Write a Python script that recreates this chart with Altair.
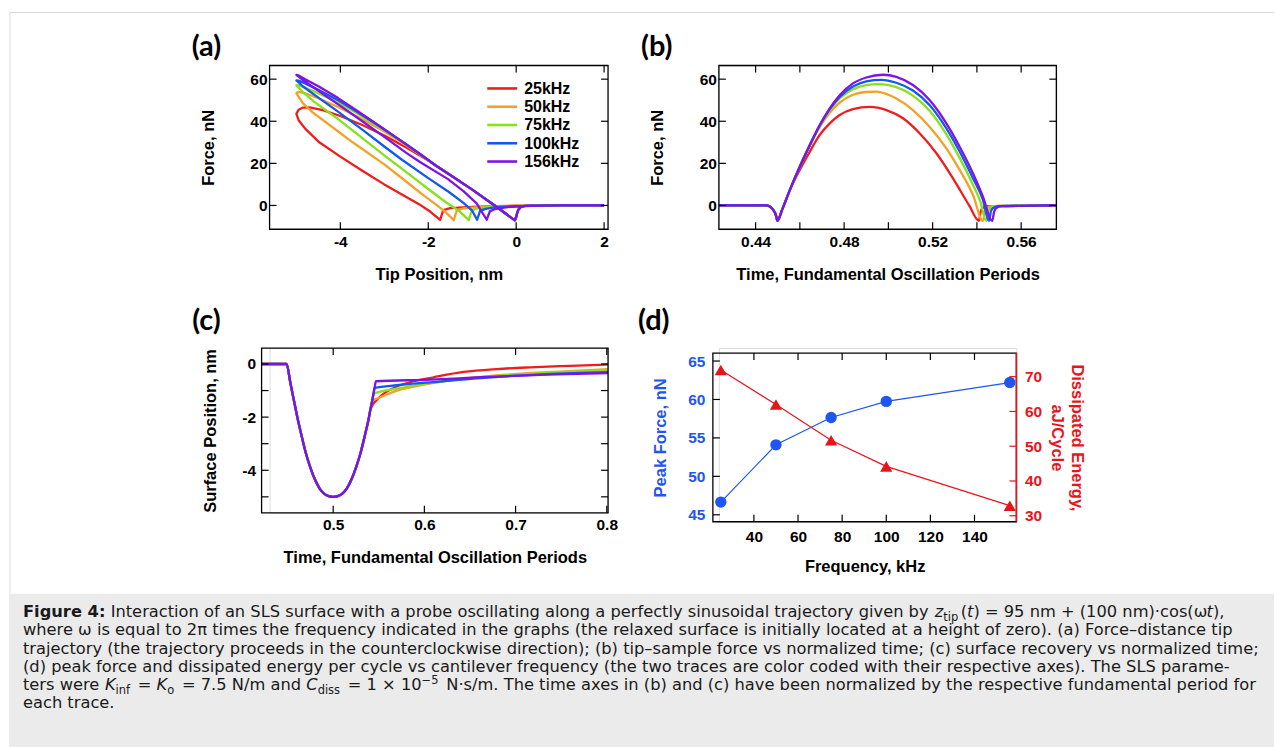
import altair as alt
import pandas as pd

# ---------------------------------------------------------------- data
SERIES = ["25kHz", "50kHz", "75kHz", "100kHz", "156kHz"]
COLORS = ["#f01d1d", "#f3a12a", "#87e11d", "#1557f2", "#7e13e6"]

# (a) force vs tip position (path: approach -> loading -> unloading -> retract)
A_APPROACH_X = [2.0, 1.0, 0.5, 0.3, 0.2, 0.1, 0.05, 0.02, 0.0, -0.03]
A_APPROACH_F = [0.0, 0.0, -0.05, -0.12, -0.25, -0.8, -2.0, -3.8, -5.5, -7.1]
A_LOAD_X = [-0.45, -1.0, -1.5, -1.83]
A_LOAD_F = [-0.6, 7.5, 14.5, 19.0]
A_UPPER_X = {
    "25kHz": [-2.0, -2.5, -3.0, -3.5, -4.0, -4.4, -4.7, -4.85, -4.95, -5.0],
    "50kHz": [-2.18, -2.5, -3.11, -3.62, -4.05, -4.49, -4.8, -4.95, -5.0],
    "75kHz": [-2.18, -2.5, -3.11, -3.62, -4.05, -4.49, -4.8, -4.95, -5.0],
    "100kHz": [-2.18, -2.5, -3.11, -3.62, -4.05, -4.49, -4.8, -4.95, -5.0],
    "156kHz": [-2.18, -2.5, -3.11, -3.62, -4.05, -4.49, -4.8, -4.95, -5.0],
}
A_UPPER_F = {
    "25kHz": [21.3, 27.5, 33.2, 38.2, 42.5, 45.3, 46.6, 46.5, 45.5, 43.5],
    "50kHz": [24.0, 28.6, 36.5, 42.3, 46.8, 50.8, 53.3, 54.0, 53.3],
    "75kHz": [24.2, 28.9, 37.2, 43.8, 48.8, 53.2, 56.0, 57.2, 57.0],
    "100kHz": [24.3, 29.0, 37.6, 44.5, 50.0, 54.8, 58.0, 59.3, 59.4],
    "156kHz": [24.3, 29.0, 37.8, 45.0, 51.0, 56.5, 60.0, 61.8, 62.0],
}
A_LOWER_X = {
    "25kHz": [-4.95, -4.8, -4.48, -4.0, -3.5, -3.0, -2.5, -2.2, -1.95, -1.73],
    "50kHz": [-4.85, -4.63, -4.2, -3.72, -3.0, -2.59, -2.18, -1.8, -1.6, -1.42],
    "75kHz": [-4.85, -4.6, -4.1, -3.5, -3.0, -2.5, -2.0, -1.6, -1.3, -1.08],
    "100kHz": [-4.85, -4.5, -4.1, -3.5, -3.0, -2.59, -2.0, -1.53, -1.2, -1.0, -0.89],
    "156kHz": [-4.85, -4.5, -4.0, -3.5, -3.0, -2.5, -2.18, -1.55, -1.2, -0.9, -0.67],
}
A_LOWER_F = {
    "25kHz": [40.5, 36.5, 30.0, 23.2, 16.5, 10.0, 4.0, 0.5, -3.0, -6.9],
    "50kHz": [48.5, 44.2, 37.5, 30.0, 19.5, 12.8, 6.0, 0.0, -3.3, -7.0],
    "75kHz": [53.8, 49.3, 41.8, 32.0, 23.8, 15.8, 7.8, 1.5, -2.6, -7.0],
    "100kHz": [56.5, 51.2, 45.3, 36.0, 28.0, 21.6, 13.0, 6.4, 1.2, -2.5, -6.8],
    "156kHz": [59.5, 54.5, 47.3, 40.0, 32.6, 25.0, 20.5, 12.5, 6.8, 1.0, -6.8],
}
A_RETRACT_X = {
    "25kHz": [-1.66, -1.5, -1.0, -0.5, 0.0, 0.5, 1.0, 2.0],
    "50kHz": [-1.35, -1.2, -0.8, -0.3, 0.2, 1.0, 2.0],
    "75kHz": [-1.01, -0.9, -0.6, -0.2, 0.3, 1.0, 2.0],
    "100kHz": [-0.82, -0.7, -0.4, 0.0, 0.4, 1.0, 2.0],
    "156kHz": [-0.6, -0.48, -0.2, 0.1, 0.5, 1.0, 2.0],
}
A_RETRACT_F = {
    "25kHz": [-2.2, -1.3, -0.7, -0.35, -0.15, -0.05, 0.0, 0.0],
    "50kHz": [-2.3, -1.4, -0.7, -0.3, -0.1, 0.0, 0.0],
    "75kHz": [-2.4, -1.5, -0.7, -0.3, -0.1, 0.0, 0.0],
    "100kHz": [-2.6, -1.6, -0.7, -0.3, -0.1, 0.0, 0.0],
    "156kHz": [-2.8, -1.7, -0.8, -0.4, -0.1, 0.0, 0.0],
}

# (b) force vs normalized time
B_PRE_T = [0.4234, 0.440, 0.445, 0.4462, 0.4472, 0.4481, 0.4488, 0.4494, 0.4498, 0.452, 0.4555]
B_PRE_F = [0.0, 0.0, 0.0, -0.4, -1.2, -2.3, -3.6, -5.5, -7.3, -2.0, 7.4]
B_T = {
    "25kHz": [0.46, 0.4645, 0.469, 0.4735, 0.478, 0.484, 0.4916, 0.4991, 0.5066, 0.5141, 0.5217, 0.5292, 0.5365, 0.5409, 0.5417, 0.5425, 0.545, 0.5759],
    "50kHz": [0.46, 0.4645, 0.469, 0.4735, 0.478, 0.484, 0.4895, 0.4946, 0.5036, 0.5111, 0.5186, 0.5262, 0.5322, 0.5382, 0.5427, 0.5436, 0.5445, 0.547, 0.5759],
    "75kHz": [0.46, 0.4645, 0.469, 0.4735, 0.478, 0.484, 0.490, 0.4961, 0.5036, 0.5111, 0.5186, 0.5262, 0.5322, 0.5382, 0.5415, 0.5442, 0.5451, 0.546, 0.548, 0.5759],
    "100kHz": [0.46, 0.4645, 0.469, 0.4735, 0.478, 0.484, 0.490, 0.4968, 0.5036, 0.5111, 0.5186, 0.5262, 0.5322, 0.5382, 0.5427, 0.5454, 0.5463, 0.5472, 0.5495, 0.5759],
    "156kHz": [0.46, 0.4645, 0.469, 0.4735, 0.478, 0.484, 0.490, 0.4976, 0.5036, 0.5111, 0.5186, 0.5262, 0.5322, 0.5382, 0.5427, 0.5469, 0.5478, 0.5487, 0.551, 0.5759],
}
B_F = {
    "25kHz": [17.0, 25.6, 33.5, 39.0, 43.0, 45.8, 46.8, 45.3, 41.4, 34.3, 24.8, 12.9, 0.0, -7.3, -3.0, -1.3, -0.3, 0.0],
    "50kHz": [18.4, 28.4, 37.3, 44.0, 48.9, 52.6, 53.9, 54.1, 50.8, 45.3, 37.4, 27.1, 16.9, 5.1, -7.3, -3.0, -1.3, -0.3, 0.0],
    "75kHz": [18.5, 28.7, 38.0, 45.3, 50.8, 55.2, 57.2, 57.6, 56.2, 52.2, 45.0, 33.8, 22.6, 9.8, 2.0, -7.3, -3.0, -1.3, -0.3, 0.0],
    "100kHz": [18.5, 28.7, 38.1, 45.8, 51.6, 56.5, 59.0, 59.7, 58.3, 54.6, 47.7, 36.6, 25.6, 12.9, 2.7, -7.3, -3.0, -1.3, -0.3, 0.0],
    "156kHz": [18.5, 28.7, 38.2, 46.1, 52.4, 58.0, 60.8, 62.1, 61.1, 57.2, 50.1, 39.0, 27.9, 15.3, 4.3, -7.3, -3.0, -1.3, -0.3, 0.0],
}

# (c) surface position vs normalized time
C_V_T = [0.4215, 0.4489, 0.453, 0.457, 0.461, 0.465, 0.470, 0.475, 0.480, 0.485, 0.490, 0.495, 0.500,
         0.505, 0.510, 0.515, 0.520, 0.525, 0.530, 0.535, 0.539, 0.5409, 0.5427, 0.5442, 0.5454, 0.5469]
C_V_Y = [0.0, 0.0, -0.7, -1.38, -2.05, -2.65, -3.35, -3.9, -4.35, -4.68, -4.88, -4.97, -5.0,
         -4.97, -4.88, -4.68, -4.35, -3.9, -3.35, -2.65, -2.05, -1.70, -1.40, -1.12, -0.90, -0.65]
C_DETACH_T = {"25kHz": 0.5409, "50kHz": 0.5427, "75kHz": 0.5442, "100kHz": 0.5454, "156kHz": 0.5469}
C_REC_T = {
    "25kHz": [0.5518, 0.5664, 0.5883, 0.6102, 0.6431, 0.6796, 0.716, 0.760, 0.8014],
    "50kHz": [0.5518, 0.570, 0.5993, 0.6431, 0.6978, 0.7526, 0.8014],
    "75kHz": [0.570, 0.6066, 0.6613, 0.7343, 0.8014],
    "100kHz": [0.570, 0.6066, 0.6613, 0.7343, 0.8014],
    "156kHz": [0.6066, 0.6613, 0.7343, 0.8014],
}
C_REC_Y = {
    "25kHz": [-1.22, -0.90, -0.65, -0.50, -0.30, -0.19, -0.125, -0.07, -0.02],
    "50kHz": [-1.25, -1.0, -0.78, -0.55, -0.38, -0.28, -0.19],
    "75kHz": [-0.93, -0.71, -0.50, -0.34, -0.24],
    "100kHz": [-0.80, -0.69, -0.53, -0.38, -0.31],
    "156kHz": [-0.59, -0.50, -0.40, -0.34],
}

# (d) peak force and dissipated energy vs frequency
D_FREQ = [25, 50, 75, 100, 156]
D_PEAK = [46.65, 54.1, 57.65, 59.75, 62.2]
D_ENERGY = [71.9, 62.0, 51.7, 44.2, 32.9]

# tick values / labels
A_XTICKS = [-4, -2, 0, 2]
A_YTICKS = [0, 20, 40, 60]
B_XTICKS = [0.44, 0.46, 0.48, 0.50, 0.52, 0.54, 0.56]
B_XLABELS = [0.44, 0.48, 0.52, 0.56]
C_XTICKS = [0.5, 0.6, 0.7, 0.8]
C_YTICKS = [0, -1, -2, -3, -4, -5]
C_YLABELS = [0, -2, -4]
D_XTICKS = [40, 60, 80, 100, 120, 140]
D_YLTICKS = [45, 50, 55, 60, 65]
D_YRTICKS = [30, 40, 50, 60, 70]

CAPTION = [
    [("Figure 4:", "b"), (" Interaction of an SLS surface with a probe oscillating along a perfectly sinusoidal trajectory given by ", "r"),
     ("z", "i"), ("tip", "sub"), ("(", "r"), ("t", "i"), (") = 95 nm + (100 nm)·cos(ω", "r"), ("t", "i"), ("),", "r")],
    [("where ω is equal to 2π times the frequency indicated in the graphs (the relaxed surface is initially located at a height of zero). (a) Force–distance tip", "r")],
    [("trajectory (the trajectory proceeds in the counterclockwise direction); (b) tip–sample force vs normalized time; (c) surface recovery vs normalized time;", "r")],
    [("(d) peak force and dissipated energy per cycle vs cantilever frequency (the two traces are color coded with their respective axes). The SLS parame-", "r")],
    [("ters were ", "r"), ("K", "i"), ("inf", "sub"), (" = ", "r"), ("K", "i"), ("o", "sub"), (" = 7.5 N/m and ", "r"), ("C", "i"), ("diss", "sub"),
     (" = 1 × 10", "r"), ("−5", "sup"), (" N·s/m. The time axes in (b) and (c) have been normalized by the respective fundamental period for", "r")],
    [("each trace.", "r")],
]

# ---------------------------------------------------------------- styles
AF = "Liberation Sans, Arial, Helvetica, sans-serif"
CF = "DejaVu Sans, Verdana, sans-serif"
LF = "Lato, Open Sans, sans-serif"
LABEL_SIZE = 15.5
TITLE_SIZE = 16.5
TICK = 7
MINUS = "replace(datum.label, '\u2212', '-')"
BLUE = "#1f55f0"
RED = "#e8141c"
DF0 = pd.DataFrame({"v": [0]})


def x_axis(values, fmt, title, title_x, pad=5, color="black", title_y=50):
    return alt.Axis(values=values, format=fmt, title=title, orient="bottom", ticks=False, tickSize=0,
                    domain=False, grid=False, labelPadding=pad, labelFlush=False, labelOverlap=False,
                    labelFont=AF, labelFontSize=LABEL_SIZE, labelFontWeight="bold", labelColor=color,
                    labelExpr=MINUS, titleFont=AF, titleFontSize=TITLE_SIZE, titleFontWeight="bold",
                    titleColor=color, titleX=title_x, titleY=title_y, titleAlign="center",
                    titleBaseline="alphabetic", zindex=2)


def y_axis(values, fmt, title, title_y, title_x, pad=3, color="black", orient="left", angle=270,
           offset=0):
    return alt.Axis(values=values, format=fmt, title=title, orient=orient, ticks=False, tickSize=0,
                    domain=False, grid=False, labelPadding=pad, labelFlush=False, labelOverlap=False,
                    labelFont=AF, labelFontSize=LABEL_SIZE, labelFontWeight="bold", labelColor=color,
                    labelExpr=MINUS, titleFont=AF, titleFontSize=TITLE_SIZE, titleFontWeight="bold",
                    titleColor=color, titleX=title_x, titleY=title_y, titleAlign="center",
                    titleBaseline="middle", titleAngle=angle, titleLineHeight=20, offset=offset,
                    zindex=2)


def xtick_layers(vals, xsc, xax, y0, y1, color="black"):
    base = alt.Chart(pd.DataFrame({"x": vals}))
    top = base.mark_rule(color=color, strokeWidth=1.2).encode(
        x=alt.X("x:Q", scale=xsc, axis=xax), y=alt.value(y0), y2=alt.value(y0 + TICK))
    bot = base.mark_rule(color=color, strokeWidth=1.2).encode(
        x=alt.X("x:Q", scale=xsc, axis=xax), y=alt.value(y1 - TICK), y2=alt.value(y1))
    return [top, bot]


def ytick_layer(vals, field, ysc, yax, x0, x1, color="black"):
    return alt.Chart(pd.DataFrame({field: vals})).mark_rule(color=color, strokeWidth=1.2).encode(
        y=alt.Y(field + ":Q", scale=ysc, axis=yax), x=alt.value(x0), x2=alt.value(x1))


def frame(x0, x1, y0, y1):
    return alt.Chart(DF0).mark_rect(fillOpacity=0, stroke="black", strokeWidth=1.3).encode(
        x=alt.value(x0), x2=alt.value(x1), y=alt.value(y0), y2=alt.value(y1))


def letter(txt, dx, dy):
    return alt.Chart(pd.DataFrame({"t": [txt]})).mark_text(
        font=LF, fontSize=29, fontWeight="bold", align="left", baseline="alphabetic", color="black"
    ).encode(text="t:N", x=alt.value(dx), y=alt.value(dy))


COLOR_SCALE = alt.Scale(domain=SERIES, range=COLORS)

# ---------------------------------------------------------------- page background (drawn first)
bg = alt.Chart(DF0).mark_rect(color="white").encode(
    x=alt.value(-269), x2=alt.value(1006), y=alt.value(-64), y2=alt.value(683))
border_top = alt.Chart(DF0).mark_rule(color="#d9d9d9", strokeWidth=1).encode(
    x=alt.value(9 - 269), x2=alt.value(1006), y=alt.value(11 - 64))
border_left = alt.Chart(DF0).mark_rule(color="#d9d9d9", strokeWidth=1).encode(
    x=alt.value(9 - 269), y=alt.value(11 - 64), y2=alt.value(593 - 64))

# ---------------------------------------------------------------- panel (a)
rows = []
for s in SERIES:
    xs = A_APPROACH_X + A_LOAD_X + A_UPPER_X[s] + A_LOWER_X[s] + A_RETRACT_X[s]
    fs = A_APPROACH_F + A_LOAD_F + A_UPPER_F[s] + A_LOWER_F[s] + A_RETRACT_F[s]
    for i, (x, f) in enumerate(zip(xs, fs)):
        rows.append({"x": x, "y": f, "s": s, "o": i})
df_a = pd.DataFrame(rows)

WA, HA = 339, 164
xs_a = alt.Scale(domain=[-5.61, 2.09], nice=False, zero=False)
ys_a = alt.Scale(domain=[-11.3, 66.5], nice=False, zero=False)
ax_a_x = x_axis(A_XTICKS, "d", "Tip Position, nm", WA / 2)
ax_a_y = y_axis(A_YTICKS, "d", "Force, nN", HA / 2, -61, pad=2.5)
lines_a = alt.Chart(df_a).mark_line(strokeWidth=2.3, strokeJoin="round").encode(
    x=alt.X("x:Q", scale=xs_a, axis=ax_a_x), y=alt.Y("y:Q", scale=ys_a, axis=ax_a_y),
    color=alt.Color("s:N", scale=COLOR_SCALE, legend=None), order="o:Q")
legend_layers = []
for i, s in enumerate(SERIES):
    d1 = pd.DataFrame({"s": [s]})
    legend_layers.append(alt.Chart(d1).mark_rule(strokeWidth=2.6).encode(
        color=alt.Color("s:N", scale=COLOR_SCALE, legend=None),
        x=alt.value(218), x2=alt.value(248), y=alt.value(23 + 18.3 * i)))
    legend_layers.append(alt.Chart(d1).mark_text(
        font=AF, fontSize=16, fontWeight="bold", align="left", baseline="middle", color="black"
    ).encode(text="s:N", x=alt.value(255), y=alt.value(23.5 + 18.3 * i)))
panel_a = alt.layer(
    bg, border_top, border_left,
    lines_a, *xtick_layers(A_XTICKS, xs_a, ax_a_x, 0, HA),
    ytick_layer(A_YTICKS, "y", ys_a, ax_a_y, 0, TICK), ytick_layer(A_YTICKS, "y", ys_a, ax_a_y, WA - TICK, WA),
    *legend_layers, frame(0, WA, 0, HA),
    letter("(a)", -78, -10),
).properties(width=WA, height=HA)

# ---------------------------------------------------------------- panel (b)
rows = []
for s in SERIES:
    ts = B_PRE_T + B_T[s]
    fs = B_PRE_F + B_F[s]
    for i, (t, f) in enumerate(zip(ts, fs)):
        rows.append({"x": t, "y": f, "s": s, "o": i})
df_b = pd.DataFrame(rows)

WB, HB = 338, 164
xs_b = alt.Scale(domain=[0.4234, 0.5759], nice=False, zero=False)
ys_b = alt.Scale(domain=[-11.3, 66.5], nice=False, zero=False)
ax_b_x = x_axis(B_XLABELS, ".2f", "Time, Fundamental Oscillation Periods", WB / 2)
ax_b_y = y_axis(A_YTICKS, "d", "Force, nN", HB / 2, -61.3, pad=2.5)
lines_b = alt.Chart(df_b).mark_line(strokeWidth=2.3, interpolate="monotone").encode(
    x=alt.X("x:Q", scale=xs_b, axis=ax_b_x), y=alt.Y("y:Q", scale=ys_b, axis=ax_b_y),
    color=alt.Color("s:N", scale=COLOR_SCALE, legend=None), order="o:Q")
panel_b = alt.layer(
    lines_b, *xtick_layers(B_XTICKS, xs_b, ax_b_x, 0, HB),
    ytick_layer(A_YTICKS, "y", ys_b, ax_b_y, 0, TICK), ytick_layer(A_YTICKS, "y", ys_b, ax_b_y, WB - TICK, WB),
    frame(0, WB, 0, HB), letter("(b)", -78, -10),
).properties(width=WB, height=HB)

# ---------------------------------------------------------------- panel (c)
rows = []
for s in SERIES:
    ts = [t for t in C_V_T if t <= C_DETACH_T[s]] + C_REC_T[s]
    ys = [y for t, y in zip(C_V_T, C_V_Y) if t <= C_DETACH_T[s]] + C_REC_Y[s]
    for i, (t, y) in enumerate(zip(ts, ys)):
        rows.append({"x": t, "y": y, "s": s, "o": i})
df_c = pd.DataFrame(rows)

WC, HC, OC = 339, 165, -8   # frame runs from x = OC to WC
xs_c = alt.Scale(domain=[0.4215, 0.8014], range=[OC, WC], nice=False, zero=False)
ys_c = alt.Scale(domain=[-5.6, 0.6], nice=False, zero=False)
ax_c_x = x_axis(C_XTICKS, ".1f", "Time, Fundamental Oscillation Periods", (OC + WC) / 2)
ax_c_y = y_axis(C_YLABELS, "d", "Surface Position, nm", HC / 2, -51, pad=6, offset=-OC)
lines_c = alt.Chart(df_c).mark_line(strokeWidth=2.3, interpolate="monotone").encode(
    x=alt.X("x:Q", scale=xs_c, axis=ax_c_x), y=alt.Y("y:Q", scale=ys_c, axis=ax_c_y),
    color=alt.Color("s:N", scale=COLOR_SCALE, legend=None), order="o:Q")
panel_c = alt.layer(
    lines_c, *xtick_layers(C_XTICKS, xs_c, ax_c_x, 0, HC),
    ytick_layer(C_YTICKS, "y", ys_c, ax_c_y, OC, OC + TICK), ytick_layer(C_YTICKS, "y", ys_c, ax_c_y, WC - TICK, WC),
    frame(OC, WC, 0, HC), letter("(c)", -77.5, -18),
).properties(width=WC, height=HC)

# ---------------------------------------------------------------- panel (d)
df_d = pd.DataFrame({"x": D_FREQ, "peak": D_PEAK, "energy": D_ENERGY})
WD, HD, OXD, OYD = 298, 174, -6, 5   # frame x from OXD to WD, y from OYD to HD
xs_d = alt.Scale(domain=[21.4, 159.0], range=[OXD, WD], nice=False, zero=False)
ysl_d = alt.Scale(domain=[44.09, 66.04], range=[HD, OYD], nice=False, zero=False)
ysr_d = alt.Scale(domain=[28.27, 76.8], range=[HD, OYD], nice=False, zero=False)
ax_d_x = x_axis(D_XTICKS, "d", "Frequency, kHz", (OXD + WD) / 2, pad=8)
ax_d_yl = y_axis(D_YLTICKS, "d", "Peak Force, nN", (OYD + HD) / 2, -52, pad=8, color=BLUE, offset=-OXD)
ax_d_yr = y_axis(D_YRTICKS, "d", ["Dissipated Energy,", "aJ/Cycle"], (OYD + HD) / 2, 60, pad=8,
                 color=RED, orient="right", angle=90)

base_d = alt.Chart(df_d)
blue_line = base_d.mark_line(color=BLUE, strokeWidth=1.2).encode(
    x=alt.X("x:Q", scale=xs_d, axis=ax_d_x), y=alt.Y("peak:Q", scale=ysl_d, axis=ax_d_yl))
blue_pts = base_d.mark_point(color=BLUE, filled=True, shape="circle", size=130, opacity=1).encode(
    x=alt.X("x:Q", scale=xs_d, axis=ax_d_x), y=alt.Y("peak:Q", scale=ysl_d, axis=ax_d_yl))
left_ticks = ytick_layer(D_YLTICKS, "peak", ysl_d, ax_d_yl, OXD, OXD + TICK)
left_group = alt.layer(frame(OXD, WD, OYD, HD), blue_line, blue_pts, left_ticks,
                       *xtick_layers(D_XTICKS, xs_d, ax_d_x, OYD, HD), letter("(d)", -81, -18))

red_line = base_d.mark_line(color=RED, strokeWidth=1.2).encode(
    x=alt.X("x:Q", scale=xs_d, axis=ax_d_x), y=alt.Y("energy:Q", scale=ysr_d, axis=ax_d_yr))
red_pts = base_d.mark_point(color=RED, filled=True, shape="triangle-up", size=150, opacity=1).encode(
    x=alt.X("x:Q", scale=xs_d, axis=ax_d_x), y=alt.Y("energy:Q", scale=ysr_d, axis=ax_d_yr))
right_ticks = ytick_layer(D_YRTICKS, "energy", ysr_d, ax_d_yr, WD - TICK, WD, color=RED)
right_edge = alt.Chart(DF0).mark_rule(color=RED, strokeWidth=1.6).encode(
    x=alt.value(WD), y=alt.value(OYD), y2=alt.value(HD))
right_group = alt.layer(red_line, red_pts, right_ticks, right_edge)

panel_d = alt.layer(left_group, right_group).resolve_scale(y="independent").properties(width=WD, height=HD)

# ---------------------------------------------------------------- caption
DV = {' ': 318, '!': 401, '(': 390, ')': 390, ',': 318, '-': 361, '.': 318, '/': 337, ':': 337, ';': 337,
      '=': 838, '+': 838, '–': 500, '×': 838, '·': 318, 'ω': 782, 'π': 602, '−': 838,
      'A': 684, 'B': 686, 'C': 698, 'D': 770, 'E': 632, 'F': 575, 'G': 775, 'H': 752, 'I': 295, 'J': 295,
      'K': 656, 'L': 557, 'M': 863, 'N': 748, 'O': 787, 'P': 603, 'Q': 787, 'R': 695, 'S': 635, 'T': 611,
      'U': 732, 'V': 684, 'W': 989, 'X': 685, 'Y': 611, 'Z': 685,
      'a': 613, 'b': 635, 'c': 550, 'd': 635, 'e': 615, 'f': 352, 'g': 635, 'h': 634, 'i': 278, 'j': 278,
      'k': 579, 'l': 278, 'm': 974, 'n': 634, 'o': 612, 'p': 635, 'q': 635, 'r': 411, 's': 521, 't': 392,
      'u': 634, 'v': 592, 'w': 818, 'x': 592, 'y': 592, 'z': 525}
for dch in "0123456789":
    DV[dch] = 636
DVB = dict(DV)
DVB.update({' ': 348, 'F': 683, 'i': 343, 'g': 716, 'u': 712, 'r': 493, 'e': 678, '4': 696, ':': 400})

CAP_SIZE = 16.3
STYLE = {  # size, dy, weight, style
    "r": (CAP_SIZE, 0, "normal", "normal"),
    "b": (CAP_SIZE, 0, "bold", "normal"),
    "i": (CAP_SIZE, 0, "normal", "italic"),
    "sub": (11.5, 4, "normal", "normal"),
    "sup": (11.5, -6.5, "normal", "normal"),
}


def width(txt, size, table):
    return sum(table.get(ch, 600) for ch in txt) / 1000.0 * size


CAP_ORIGIN_X, CAP_ORIGIN_Y = 269, 640
CAP_X0 = 22 - CAP_ORIGIN_X
CAP_BASE0 = 616.5 - CAP_ORIGIN_Y
CAP_STEP = 18.3
seg_rows = []
for li, line in enumerate(CAPTION):
    xcur = CAP_X0
    base = CAP_BASE0 + li * CAP_STEP
    for text, st in line:
        size, dy, wt, fs = STYLE[st]
        table = DVB if st == "b" else DV
        lead = len(text) - len(text.lstrip(" "))
        trail = len(text) - len(text.rstrip(" "))
        xcur += width(" " * lead, size, table)
        core = text.strip(" ")
        seg_rows.append({"text": core, "px": xcur, "py": base + dy, "st": st})
        xcur += width(core, size, table) + width(" " * trail, size, table)
        if st in ("sub", "sup"):
            xcur += 2.5
df_cap = pd.DataFrame(seg_rows)

WCAP, HCAP = 300, 747 - CAP_ORIGIN_Y
cap_bg = alt.Chart(DF0).mark_rect(color="#ebebeb").encode(
    x=alt.value(8 - CAP_ORIGIN_X), x2=alt.value(1275 - CAP_ORIGIN_X),
    y=alt.value(593 - CAP_ORIGIN_Y), y2=alt.value(HCAP))
cap_layers = [cap_bg]
for st, (size, dy, wt, fs) in STYLE.items():
    sub = df_cap[df_cap["st"] == st]
    if len(sub) == 0:
        continue
    cap_layers.append(alt.Chart(sub).mark_text(
        font=CF, fontSize=size, fontWeight=wt, fontStyle=fs, align="left", baseline="alphabetic",
        color="#1a1a1a").encode(
        x=alt.X("px:Q", scale=None, axis=None), y=alt.Y("py:Q", scale=None, axis=None), text="text:N"))
caption = alt.layer(*cap_layers).properties(width=WCAP, height=HCAP)

# ---------------------------------------------------------------- grid layout
chart = alt.concat(panel_a, panel_b, panel_c, panel_d, caption, columns=2,
                   spacing=alt.RowColnumber(row=119, column=111), bounds="flush").properties(padding=0)
chart = chart.configure_view(strokeWidth=0).configure(font=AF)

chart.save("out.html", embed_options={"renderer": "svg", "actions": False})
